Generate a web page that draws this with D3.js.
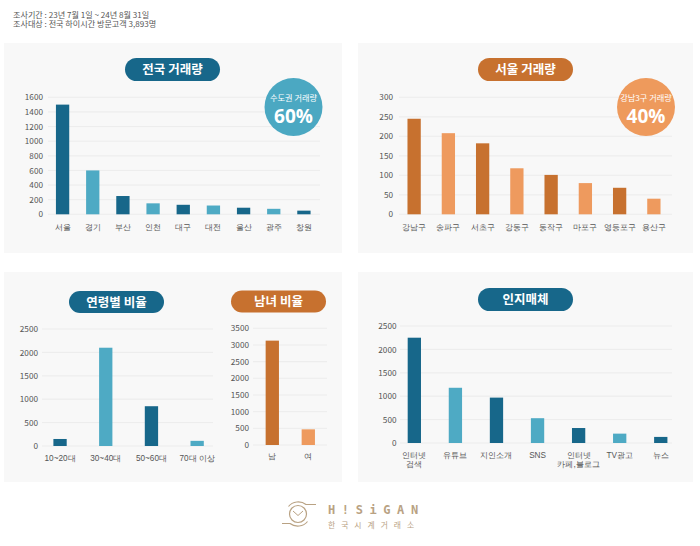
<!DOCTYPE html>
<html><head><meta charset="utf-8">
<script src="https://cdn.jsdelivr.net/npm/d3@7"></script>
<style>
html,body{margin:0;padding:0;background:#fff;}
svg{display:block;font-family:"Noto Sans CJK KR","Noto Sans",sans-serif;}
</style></head>
<body>
<svg id="c" width="700" height="546"></svg>
<script>
// ---- data ----
const headerLines = ["조사기간 : 23년 7월 1일 ~ 24년 8월 31일", "조사대상 : 전국 하이시간 방문고객 3,893명"];

const nationCategories = ["서울","경기","부산","인천","대구","대전","울산","광주","창원"];
const nationValues = [1500, 600, 250, 150, 130, 120, 90, 75, 50];
const nationTicks = [0,200,400,600,800,1000,1200,1400,1600];

const seoulCategories = ["강남구","송파구","서초구","강동구","동작구","마포구","영등포구","용산구"];
const seoulValues = [245, 208, 182, 118, 101, 80, 68, 40];
const seoulTicks = [0,50,100,150,200,250,300];

const ageCategories = ["10~20대","30~40대","50~60대","70대 이상"];
const ageValues = [150, 2100, 850, 110];
const ageTicks = [0,500,1000,1500,2000,2500];

const genderCategories = ["남","여"];
const genderValues = [3130, 470];
const genderTicks = [0,500,1000,1500,2000,2500,3000,3500];

const mediaCategories = ["인터넷\n검색","유튜브","지인소개","SNS","인터넷\n카페,블로그","TV광고","뉴스"];
const mediaValues = [2250, 1180, 970, 530, 320, 200, 130];
const mediaTicks = [0,500,1000,1500,2000,2500];

// ---- styles ----
const TEAL_D = "#17678a", TEAL_L = "#4eaac4";
const ORG_D = "#c7712f", ORG_L = "#ee9a5e";

const svg = d3.select("#c");

// header
svg.selectAll("text.hdr").data(headerLines).join("text")
  .attr("class","hdr").attr("x",13).attr("y",(d,i)=>15+i*9.6).attr("dy","0.35em")
  .attr("font-size",8.1).attr("fill","#555").text(d=>d);

// panels
const panels = [[4,43,338,210],[358,43,335,210],[4,272,338,210],[358,272,335,210]];
svg.selectAll("rect.panel").data(panels).join("rect")
  .attr("class","panel").attr("x",d=>d[0]).attr("y",d=>d[1])
  .attr("width",d=>d[2]).attr("height",d=>d[3]).attr("fill","#f8f8f8");

function pill(cx, cy, w, h, color, label){
  svg.append("rect").attr("x",cx-w/2).attr("y",cy-h/2).attr("width",w).attr("height",h)
    .attr("rx",h/2).attr("fill",color);
  svg.append("text").attr("x",cx).attr("y",cy).attr("dy","0.36em")
    .attr("text-anchor","middle").attr("font-size",12.5).attr("font-weight","bold")
    .attr("fill","#fff").text(label);
}

function chart(cfg){
  const y = d3.scaleLinear().domain([0, cfg.ticks[cfg.ticks.length-1]]).range([cfg.y0, cfg.y1]);
  const x = d3.scaleBand().domain(cfg.cats).range(cfg.xr).paddingInner(0).paddingOuter(0);
  const g = svg.append("g");
  // gridlines
  g.selectAll("line.grid").data(cfg.ticks).join("line")
    .attr("x1",cfg.gx[0]).attr("x2",cfg.gx[1]).attr("y1",d=>y(d)).attr("y2",d=>y(d))
    .attr("stroke","#e8e8e8").attr("stroke-width",0.8);
  // y axis
  const ay = g.append("g").attr("transform",`translate(${cfg.lx},0)`)
    .call(d3.axisLeft(y).tickValues(cfg.ticks).tickSize(0).tickPadding(0).tickFormat(d3.format("d")));
  ay.select(".domain").remove();
  ay.selectAll("text").attr("font-size",8.2).attr("fill","#555").attr("font-family",'"Noto Sans CJK KR","Noto Sans",sans-serif');
  // bars
  const bw = 13.3;
  g.selectAll("rect.bar").data(cfg.vals).join("rect")
    .attr("x",(d,i)=>x(cfg.cats[i])+x.bandwidth()/2-bw/2)
    .attr("width",bw).attr("y",d=>y(d)).attr("height",d=>y(0)-y(d))
    .attr("fill",(d,i)=> i%2===0 ? cfg.c1 : cfg.c2);
  // x labels
  const ax = g.append("g").attr("transform",`translate(0,${cfg.xl})`)
    .call(d3.axisBottom(x).tickSize(0).tickPadding(0).tickFormat(""));
  ax.select(".domain").remove();
  ax.selectAll(".tick").each(function(d){
    const t = d3.select(this).append("text").attr("text-anchor","middle")
      .attr("font-size",8.2).attr("fill","#555");
    d.split("\n").forEach((ln,k)=>{
      t.append("tspan").attr("x",0).attr("y",k*9.5).attr("dy","0.35em").text(ln);
    });
  });
}

// nation
pill(172.5, 69.5, 95, 23, TEAL_D, "전국 거래량");
chart({cats:nationCategories, vals:nationValues, ticks:nationTicks, y0:214.3, y1:97.3,
  xr:[47.5,319], gx:[48,320], lx:43, xl:227, c1:TEAL_D, c2:TEAL_L});
// seoul
pill(525.5, 69.5, 95, 23, ORG_D, "서울 거래량");
chart({cats:seoulCategories, vals:seoulValues, ticks:seoulTicks, y0:214.3, y1:97.3,
  xr:[397,671], gx:[399,672], lx:393, xl:227, c1:ORG_D, c2:ORG_L});
// age
pill(116.5, 302, 95, 22, TEAL_D, "연령별 비율");
chart({cats:ageCategories, vals:ageValues, ticks:ageTicks, y0:446, y1:329,
  xr:[37.2,220], gx:[42,213], lx:38, xl:458.5, c1:TEAL_D, c2:TEAL_L});
// gender
pill(278.5, 301.5, 95, 22, ORG_D, "남녀 비율");
chart({cats:genderCategories, vals:genderValues, ticks:genderTicks, y0:445, y1:328.3,
  xr:[254.3,326.3], gx:[253,327], lx:249, xl:456.5, c1:ORG_D, c2:ORG_L});
// media
pill(525.5, 299.5, 95, 23, TEAL_D, "인지매체");
chart({cats:mediaCategories, vals:mediaValues, ticks:mediaTicks, y0:443, y1:326,
  xr:[393.8,681.3], gx:[400,672], lx:396.5, xl:455, c1:TEAL_D, c2:TEAL_L});

// badges
function badge(cx, cy, r, color, small, big){
  svg.append("circle").attr("cx",cx).attr("cy",cy).attr("r",r).attr("fill",color);
  svg.append("text").attr("x",cx).attr("y",cy-9).attr("dy","0.35em").attr("text-anchor","middle")
    .attr("font-size",8.2).attr("fill","#fff").text(small);
  svg.append("text").attr("x",cx).attr("y",cy+8.8).attr("dy","0.36em").attr("text-anchor","middle")
    .attr("font-size",19).attr("font-weight","bold").attr("fill","#fff")
    .attr("font-family","'Open Sans','Noto Sans',sans-serif").text(big);
}
badge(293.5, 107, 29, "#4ba8c2", "수도권 거래량", "60%");
badge(646, 107, 29, "#ee9a5c", "강남3구 거래량", "40%");

// logo
const LOGO = "#b9a283";
const lg = svg.append("g").attr("stroke",LOGO).attr("fill","none").attr("stroke-width",1.2);
lg.append("circle").attr("cx",298).attr("cy",514).attr("r",8.5);
lg.append("path").attr("d","M288.5,506.5 A12,11 0 0 1 306,504.5 L316,504.5");
lg.append("path").attr("d","M307.5,521.5 A12,11 0 0 1 290,523.5 L282,523.5");
lg.append("path").attr("d","M293,511 L298,515.5 L303,511").attr("stroke-width",1);
svg.append("text").attr("x",328).attr("y",510).attr("dy","0.36em")
  .attr("font-size",12).attr("font-weight","bold").attr("fill",LOGO)
  .attr("letter-spacing",6.6).attr("font-family","'DejaVu Sans Mono',monospace").text("H!SiGAN");
svg.append("text").attr("x",328).attr("y",525.5).attr("dy","0.36em")
  .attr("font-size",7.8).attr("fill",LOGO).attr("letter-spacing",6.0).text("한국시계거래소");
</script>
</body></html>
